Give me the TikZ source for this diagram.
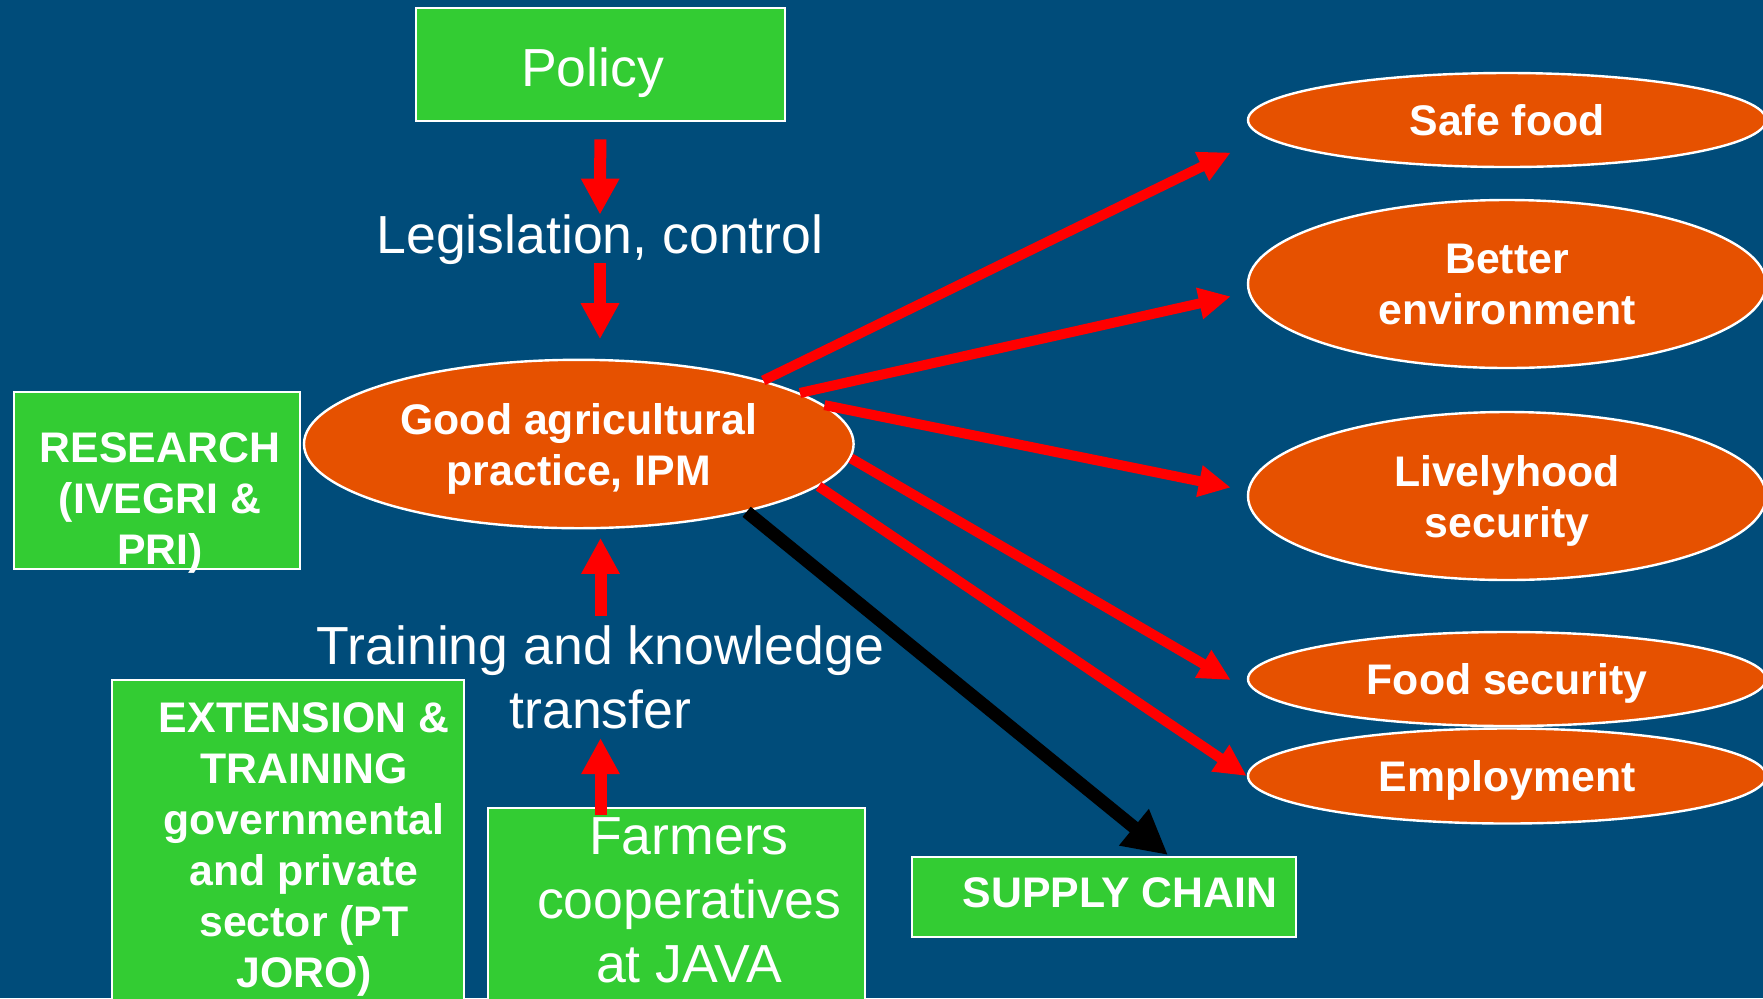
\documentclass[tikz,border=0pt]{standalone}
\usepackage{fontspec}
\setmainfont{Liberation Sans}
\usetikzlibrary{positioning,arrows.meta,shapes.geometric,calc}
\definecolor{bgblue}{RGB}{0,76,122}
\definecolor{boxgreen}{RGB}{51,204,51}
\definecolor{goalorange}{RGB}{230,81,0}
\tikzset{
  block/.style={
    draw=white,
    rectangle,
    line width=1pt,
    fill=boxgreen,
    inner sep=0pt
  },
  goal/.style={
    draw=white,
    ellipse,
    line width=1.2pt,
    fill=goalorange,
    inner sep=0pt,
    minimum width=259pt,
    text=white,
    text depth=0pt,
    align=center,
    font=\bfseries\fontsize{21.4}{25.5}\selectfont
  },
  txt/.style={text=white,align=center,inner sep=0pt,font=\fontsize{26.8}{32}\selectfont},
  boldtxt/.style={txt,font=\bfseries\fontsize{21.4}{25.5}\selectfont},
  line/.style={draw=red,line width=5pt,-{Triangle[length=16pt,width=15pt]}},
  vline/.style={draw=red,line width=6pt,-{Triangle[length=18pt,width=18pt]}},
  chain/.style={draw=black,line width=6.5pt,-{Triangle[length=22pt,width=22pt]}}
}

\begin{document}
\begin{tikzpicture}[x=0.5pt,y=-0.5pt]

	\useasboundingbox (0,0) rectangle (1763,998);
	\fill[bgblue] (0,0) rectangle (1763,998);

	\node[goal, minimum width=274.8pt, minimum height=84.2pt] (gap) at (578.8,444) {Good agricultural\\practice, IPM};

	% policy
	\node[block, minimum width=184.3pt, minimum height=56.7pt] (policy) at (600.4,64.6) {};
	\node[txt] (policy_txt) at (592.6,72.5) {Policy};
	\node[txt] (legis) at (600,240) {Legislation, control};

	% research
	\node[block, minimum width=143pt, minimum height=88.5pt] (research) at (157,480.5) {};
	\node[boldtxt] (research_txt) at (160,503) {RESEARCH\\(IVEGRI \&\\PRI)};

	% training
	\node[txt] (training) at (600.5,677) {Training and knowledge\\transfer};
	\node[block, minimum width=176pt, minimum height=165pt] (extension) at (288,845) {};
	\node[boldtxt] (extension_txt) at (304,849) {EXTENSION \&\\TRAINING\\governmental\\and private\\sector (PT\\JORO)};
	\node[block, minimum width=188.5pt, minimum height=101pt] (farmers) at (676.5,909) {};
	\node[txt] (farmers_txt) at (689,900) {Farmers\\cooperatives\\at JAVA};

	\node[block, minimum width=192pt, minimum height=40pt] (supply) at (1104,897) {};
	\node[boldtxt] (supply_txt) at (1120,893) {SUPPLY CHAIN};

	% outcomes
	\node[goal, minimum height=47pt] (safe) at (1507,120) {Safe food};
	\node[goal, minimum height=84pt] (better) at (1507,284) {Better\\environment};
	\node[goal, minimum height=84pt] (lively) at (1507,496) {Livelyhood\\security};
	\node[goal, minimum height=47pt] (foodsec) at (1507,679) {Food security};
	\node[goal, minimum height=47.5pt] (employ) at (1507,776) {Employment};

	\draw[vline, shorten <=8.5pt] (policy.south) -- (legis.north);
	\draw[vline, shorten <=-1.2pt, shorten >=9.7pt] (legis.south) -- (legis.south |- gap.north);
	\draw[vline, shorten <=4.6pt, shorten >=4.2pt] (training.north) -- (training.north |- gap.south);
	\draw[vline, shorten <=-4pt, shorten >=4.5pt] (training.south |- farmers.north) -- (training.south);

	\draw[line] (gap.19) -- ($(safe.west)+(-16,32.5)$);
	\draw[line] (gap.13) -- ($(better.west)+(-16,12.4)$);
	\draw[line] (gap.9) -- ($(lively.west)+(-16,-8.5)$);
	\draw[line] (gap.-3) -- ($(foodsec.west)+(-16,1)$);
	\draw[line] (gap.-10) -- (employ.west);
	\draw[chain] (gap.-22) -- ($(supply.north)+(64,-1)$);

\end{tikzpicture}
\end{document}
